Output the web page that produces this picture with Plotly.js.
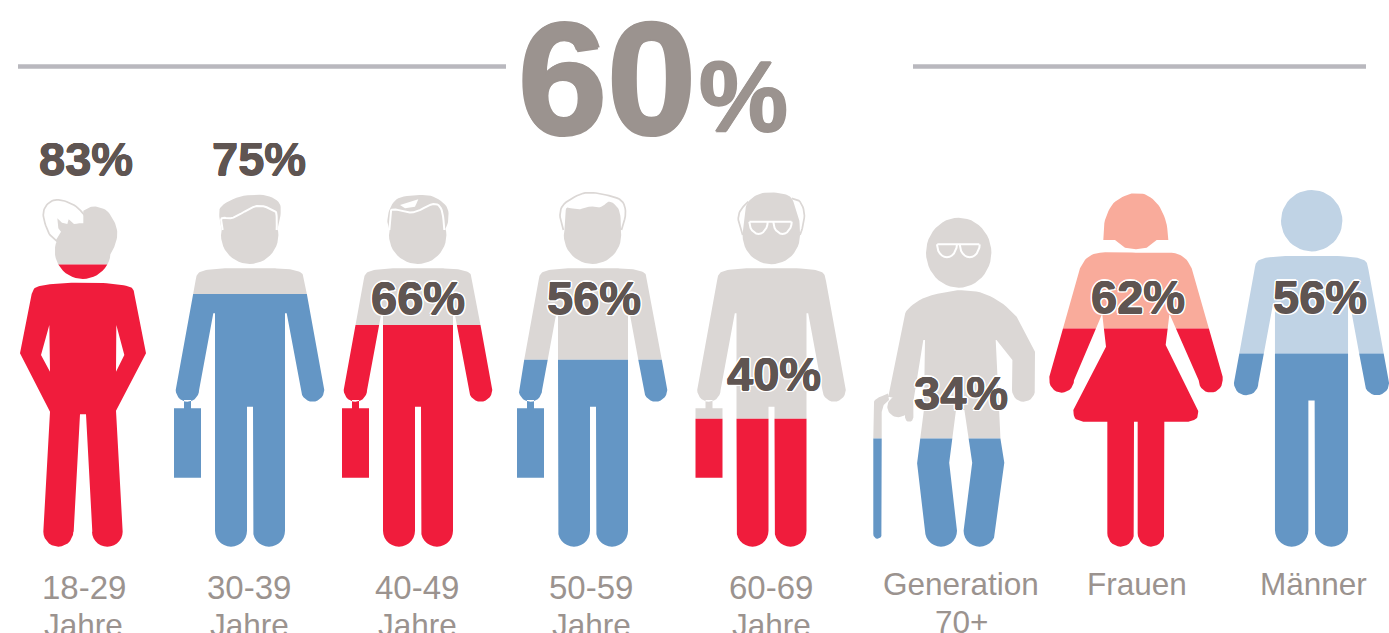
<!DOCTYPE html>
<html><head><meta charset="utf-8">
<script src="https://cdn.plot.ly/plotly-3.0.1.min.js"></script>
<style>html,body{margin:0;padding:0;background:#fff;overflow:hidden}#c{width:1389px;height:633px}</style>
</head><body><div id="c"></div>
<script>
// ---- chart values ----
const labelLine1 = ['18-29','30-39','40-49','50-59','60-69','Generation','Frauen','Männer'];
const labelLine2 = ['Jahre','Jahre','Jahre','Jahre','Jahre','70+','',''];
const values     = [83,75,66,56,40,34,62,56];
const overall    = 60;
const accent     = ['red','blue','red','blue','red','blue','red','blue'];
const upperTone  = ['gray','gray','gray','gray','gray','gray','rose','sky'];
const colors = {red:'#F01C3C',blue:'#6496C5',gray:'#DBD7D5',rose:'#F9AB9B',sky:'#C0D3E5'};
const dark='#5F5552', soft='#9B938F', rule='#B9B8BE';

// ---- glyph helpers (drawing of the pictograms) ----
const BOTTOM=546.7;
const spans=[340,337,336,334,320,318,352,345];
function arc(cx,cy,rx,ry,a0,a1,n){n=n||14;const o=[];for(let i=0;i<=n;i++){const a=(a0+(a1-a0)*i/n)*Math.PI/180;o.push([cx+rx*Math.cos(a),cy+ry*Math.sin(a)]);}return o;}
function ell(cx,cy,rx,ry){return arc(cx,cy,rx,ry||rx,0,360,48);}
function curve(p,n){n=n||6;const o=[];for(let i=0;i<p.length-1;i++){const a=p[Math.max(i-1,0)],b=p[i],c=p[i+1],d=p[Math.min(i+2,p.length-1)];
 for(let j=0;j<n;j++){const t=j/n,t2=t*t,t3=t2*t;const f=k=>0.5*((2*b[k])+(-a[k]+c[k])*t+(2*a[k]-5*b[k]+4*c[k]-d[k])*t2+(-a[k]+3*b[k]-3*c[k]+d[k])*t3);o.push([f(0),f(1)]);}}
 o.push(p[p.length-1]);return o;}
const Z=(x0,sx,y0)=>pts=>pts.map(p=>[x0+p[0]/sx,y0+p[1]/3]);
function clip(poly,level,keepAbove){const o=[];const inside=p=>keepAbove?p[1]<=level:p[1]>=level;
 for(let i=0;i<poly.length;i++){const a=poly[i],b=poly[(i+1)%poly.length];const ia=inside(a),ib=inside(b);
  if(ia)o.push(a);if(ia!==ib){const t=(level-a[1])/(b[1]-a[1]);o.push([a[0]+(b[0]-a[0])*t,level]);}}
 return o;}

function manBody(cx,k){k=k||1;
 const half=[
  ...curve([[-25,268.3],[-40,269.3],[-50,272],[-53.5,276],[-54.5,281]]),
  ...arc(-62.6,390,11.7,11.7,180,0),
  [-36.7,313.3],[-35,313.3],
  ...arc(-19,530.7,16,16,180,0),
  [-3,406.7]];
 const right=half.slice().reverse().map(p=>[-p[0],p[1]]);
 return half.concat(right).map(p=>[cx+p[0]*k,BOTTOM-(BOTTOM-p[1])*k]);}
function briefcase(cx){return [
 [[cx-76,408.3],[cx-49,408.3],[cx-49,477.7],[cx-76,477.7]],
 [[cx-66,400],[cx-59,400],[cx-59,408.8],[cx-66,408.8]]];}
function glasses(cx,y,off,rx,ry,half){return [
 [[cx-half,y],[cx+half,y]],
 arc(cx-off,y,rx,ry,180,0,12),
 arc(cx+off,y,rx,ry,180,0,12)];}

function figures(){
 const z1=Z(0,3,180), z2=Z(510,2.96,180), z3=Z(1030,3,180), z5=Z(860,3,200), z6=Z(690,3,185);
 const F=[];
 // 18-29
 F.push({parts:[
   ell(82.8,251,28,28),
   z1(curve([[250,92],[268,82],[290,80],[320,92],[343,125],[352,160],[345,195],[330,225]]).concat([[250,210]])),
   z1([[172,115],[186,128],[202,132],[206,118],[222,132],[245,130],[275,133],[335,180],[180,200],[168,180],[183,155],[175,145]]),
   z1([...curve([[95,342],[102,326],[125,317],[180,310],[250,308],[320,310],[378,317],[398,326],[403,342]]),[438,520],[348,692],[368,1055],...arc(322,1055,46,45,0,180),[277,1055],[258,703],[240,703],[221,1055],...arc(175,1055,45,45,0,180),[130,1055],[150,695],[60,520]])
  ],
  white:[z1([[148,435],[150,575],[123,525]]),z1([[349,435],[348,575],[373,525]])],
  whiteLines:[],
  grayLines:[z1(curve([[172,185],[150,165],[135,130],[130,100],[140,75],[165,60],[200,65],[235,85],[275,133]]))]});
 // 30-39
 F.push({parts:[manBody(250),...briefcase(250),ell(249.7,235.3,28.7,28.7),
   z1(curve([[665,150],[658,110],[665,78],[720,50],[790,45],[835,65],[842,100],[832,150]]))],
  white:[],whiteLines:[z1(curve([[668,150],[665,115],[700,113],[770,78],[822,92],[830,110],[830,150]]))],grayLines:[]});
 // 40-49
 F.push({parts:[manBody(418),...briefcase(418),ell(417.7,235.3,28.7,28.7),
   z1(curve([[1168,150],[1162,125],[1170,85],[1195,55],[1250,45],[1300,50],[1340,80],[1345,120],[1335,150]]))],
  white:[z1([[1200,75],[1255,58],[1245,80],[1215,85]])],
  whiteLines:[z1(curve([[1168,150],[1172,105],[1180,88],[1240,97],[1300,72],[1325,90],[1333,150]]))],grayLines:[]});
 // 50-59
 F.push({parts:[manBody(593),...briefcase(593),ell(592.5,235.3,28.7,28.7),
   z2(curve([[160,170],[165,90],[180,85],[225,90],[270,80],[295,65],[320,85],[328,120],[328,170]]))],
  white:[],whiteLines:[],
  grayLines:[z2(curve([[158,150],[148,105],[160,72],[205,44],[240,38],[285,45],[330,62],[342,100],[330,150]]))]});
 // 60-69
 F.push({parts:[manBody(771.5),...briefcase(771.5),ell(771.3,235.6,28.7,28.7),
   z6(curve([[158,145],[165,80],[175,50],[205,28],[245,22],[285,28],[305,40],[315,65],[327,100],[330,145]]))],
  white:[],whiteLines:glasses(770.5,221.7,12,9.2,12.3,21),
  grayLines:[z6(curve([[158,150],[145,105],[152,75],[175,50]])),z6(curve([[305,40],[330,50],[343,85],[338,125],[330,150]]))]});
 // Generation 70+
 F.push({parts:[ell(958.7,252.7,32.7,35),
   [...z5(curve([[296,270],[360,277],[420,305],[470,350]])),...z5([[525,455],[525,570]]),...arc(1023.5,390,11.5,11.7,0,180),
    [1012.4,360],[996.5,340],[995.7,340],[1000.5,439],[1004.3,462.7],...arc(979.6,530.7,16,16,0,180),[972.2,462.7],[964.4,410],[956,410],[949.2,462.7],...arc(941,530.7,16,16,0,180),[917.1,463.3],[923.9,410],[925,340],[923.3,340],[913.3,401.7],[888.3,396.7],
    ...curve([[903.3,320],[908,309],[926.7,296.7],[958.7,290]])],
   ell(898.3,406.7,11,10.5),
   [[905,395],[913.3,395],...arc(909.2,417.6,4.2,4.2,0,180,8)],
   [[873.3,534],...curve([[873.3,410],[875,400],[888,393.5]]),[889,400],...curve([[884,404],[881.7,412]]),[881.7,534],...arc(877.5,534.5,4.2,4.2,0,180,8).slice(1,-1)]
  ],white:[],whiteLines:glasses(958.3,244.3,11.4,10,13,21),grayLines:[]});
 // Frauen
 F.push({parts:[
   z3(curve([[220,180],[225,120],[250,70],[290,45],[318,40],[350,45],[385,75],[408,125],[415,180]]).concat([[380,180],[350,203],[318,208],[285,203],[255,180]])),
   z3([...curve([[318,218],[425,218],[465,235],[485,265]]),[578,590],...arc(542,601,36,37,0,180),[420,405],[418,405],[407,495],[505,690],...curve([[505,690],[500,715],[475,725]]),[403,725],[403,1060],...arc(363,1060,40,40,0,180),[323,725],[312,725],[312,1060],...arc(272,1060,40,40,0,180),[232,725],[160,725],...curve([[160,725],[135,715],[130,690]]),[228,500],[217,405],[215,405],...arc(95,601,37,37,0,180),[58,590],[150,265],...curve([[150,265],[170,235],[210,218],[318,218]])])
  ],white:[],whiteLines:[],grayLines:[]});
 // Männer
 F.push({parts:[manBody(1311.5,1.044),ell(1311.7,220.7,30.7,30.7)],white:[],whiteLines:[],grayLines:[]});
 return F;
}

// ---- traces ----
function joined(list,close){const x=[],y=[];list.forEach(p=>{if(!p.length)return;if(x.length){x.push(null);y.push(null);}p.forEach(q=>{x.push(q[0]);y.push(q[1]);});if(close){x.push(p[0][0]);y.push(p[0][1]);}});return {x,y};}
const traces=[];
function fillTrace(list,color){const d=joined(list,true);traces.push({x:d.x,y:d.y,type:'scatter',mode:'lines',fill:'toself',fillcolor:color,line:{width:0,color:color},hoverinfo:'skip',showlegend:false});}
function lineTrace(list,color,w){const d=joined(list,false);traces.push({x:d.x,y:d.y,type:'scatter',mode:'lines',line:{width:w,color:color},hoverinfo:'skip',showlegend:false});}
figures().forEach((f,i)=>{
 const level=BOTTOM-values[i]/100*spans[i];
 fillTrace(f.parts.map(p=>clip(p,level,true)),colors[upperTone[i]]);
 fillTrace(f.parts.map(p=>clip(p,level,false)),colors[accent[i]]);
 if(f.grayLines.length)lineTrace(f.grayLines,colors.gray,1.7);
 if(f.white.length)fillTrace(f.white,'#fff');
 if(f.whiteLines.length)lineTrace(f.whiteLines,'#fff',2);
});

// ---- text ----
const valueX=[85.5,259,418,594,774,961,1138,1320];
const valueY=[158,158,297,297,373,392,296,296];
const labelX=[83.5,249,417,591,771,961,1137,1313];
function thick(color,d){return [[d,0],[-d,0],[0,d],[0,-d]].map(o=>o[0]+'px '+o[1]+'px 0 '+color).join(',');}
const halo=[[2,0],[-2,0],[0,2],[0,-2],[1.5,1.5],[-1.5,-1.5],[1.5,-1.5],[-1.5,1.5]].map(o=>o[0]+'px '+o[1]+'px 0 #fff').join(',');
const FONT='"Liberation Sans",Arial,sans-serif';
const ann=[];
values.forEach((v,i)=>{ann.push({x:valueX[i],y:valueY[i],xref:'x',yref:'y',text:v+'%',showarrow:false,xanchor:'center',yanchor:'middle',
 font:{family:FONT,size:47,color:dark,weight:700,shadow:thick(dark,0.5)+(i>1?','+halo:'')}});});
labelLine1.forEach((t,i)=>{const y1=i<5?587:584;
 ann.push({x:labelX[i],y:y1,xref:'x',yref:'y',text:t,showarrow:false,xanchor:'center',yanchor:'middle',font:{family:FONT,size:i<5?33:31.5,color:soft}});
 if(labelLine2[i])ann.push({x:labelX[i],y:y1+37.5,xref:'x',yref:'y',text:labelLine2[i],showarrow:false,xanchor:'center',yanchor:'middle',font:{family:FONT,size:31.5,color:soft}});
});
ann.push({x:606.5,y:77,xref:'x',yref:'y',text:String(overall),showarrow:false,xanchor:'center',yanchor:'middle',font:{family:FONT,size:160,color:soft,weight:700,shadow:thick(soft,1.5)}});
ann.push({x:743,y:96,xref:'x',yref:'y',text:'%',showarrow:false,xanchor:'center',yanchor:'middle',font:{family:FONT,size:100,color:soft,weight:700,shadow:thick(soft,1)}});

const ruleLine=(a,b)=>({type:'line',xref:'x',yref:'y',x0:a,x1:b,y0:66.5,y1:66.5,line:{color:rule,width:4.5}});
Plotly.newPlot('c',traces,{
 width:1389,height:633,margin:{l:0,r:0,t:0,b:0},paper_bgcolor:'#fff',plot_bgcolor:'#fff',showlegend:false,
 xaxis:{range:[0,1389],visible:false,fixedrange:true},
 yaxis:{range:[633,0],visible:false,fixedrange:true},
 shapes:[ruleLine(18,506),ruleLine(913,1366)],annotations:ann
},{displayModeBar:false,staticPlot:true});
</script></body></html>
